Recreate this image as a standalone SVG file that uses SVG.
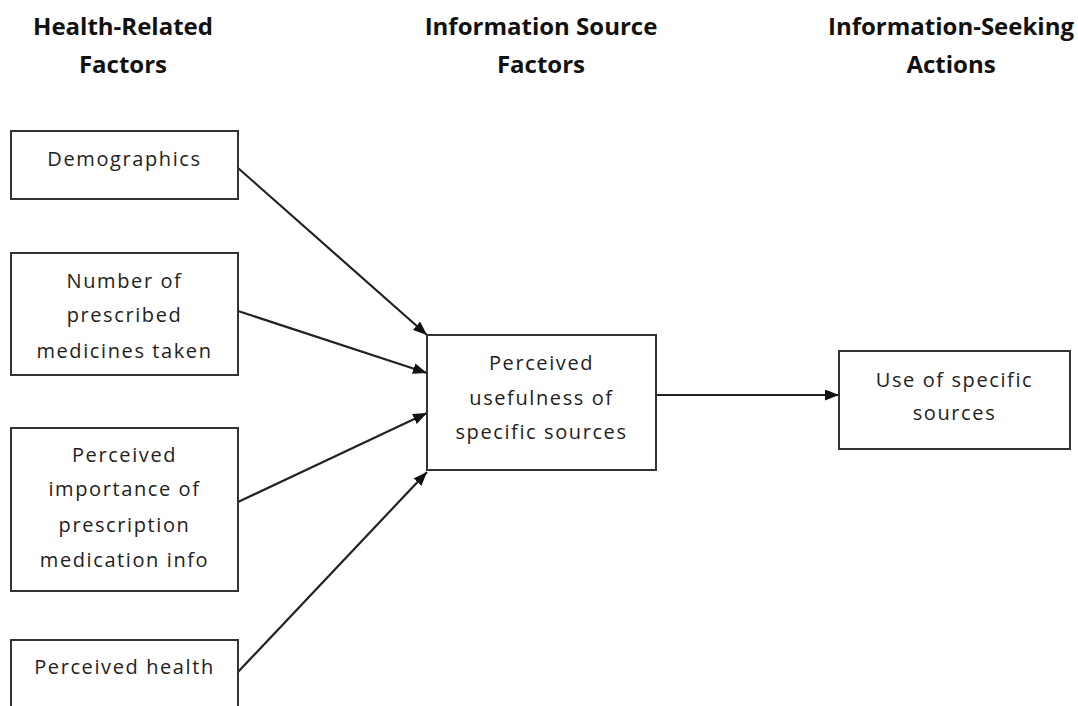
<svg xmlns="http://www.w3.org/2000/svg" width="1078" height="706" viewBox="0 0 1078 706">
<defs>
<style>
.title{font-family:"Open Sans","Liberation Sans",sans-serif;font-weight:bold;font-size:24px;fill:#111;text-anchor:middle}
.lbl{font-family:"Open Sans","Liberation Sans",sans-serif;font-size:20px;fill:#222;text-anchor:middle;letter-spacing:1.6px}
.box{fill:#fff;stroke:#333;stroke-width:2}
.conn{stroke:#222;stroke-width:2.2;fill:none;marker-end:url(#arr)}
</style>
<marker id="arr" viewBox="0 0 14 11" refX="14" refY="5.5" markerWidth="14" markerHeight="11" markerUnits="userSpaceOnUse" orient="auto">
<path d="M0,0 L14,5.5 L0,11 Z" fill="#111"/>
</marker>
</defs>
<rect width="1078" height="706" fill="#fff"/>
<g id="titles">
<text class="title" x="123" y="35">Health-Related</text>
<text class="title" x="123" y="73">Factors</text>
<text class="title" x="541" y="35">Information Source</text>
<text class="title" x="541" y="73">Factors</text>
<text class="title" x="951" y="35">Information-Seeking</text>
<text class="title" x="951" y="73">Actions</text>
</g>
<g id="connectors">
<line class="conn" x1="238" y1="168" x2="427" y2="335"/>
<line class="conn" x1="238" y1="311" x2="427" y2="373"/>
<line class="conn" x1="238" y1="502" x2="427" y2="413"/>
<line class="conn" x1="238" y1="672" x2="427" y2="472"/>
<line class="conn" x1="656" y1="395" x2="839" y2="395"/>
</g>
<g id="demographics">
<rect class="box" x="11" y="131" width="227" height="68"/>
<text class="lbl" x="124.5" y="166">Demographics</text>
</g>
<g id="num-medicines">
<rect class="box" x="11" y="253" width="227" height="122"/>
<text class="lbl" x="124.5" y="288">Number of</text>
<text class="lbl" x="124.5" y="322">prescribed</text>
<text class="lbl" x="124.5" y="358">medicines taken</text>
</g>
<g id="importance">
<rect class="box" x="11" y="428" width="227" height="163"/>
<text class="lbl" x="124.5" y="462">Perceived</text>
<text class="lbl" x="124.5" y="496">importance of</text>
<text class="lbl" x="124.5" y="532">prescription</text>
<text class="lbl" x="124.5" y="567">medication info</text>
</g>
<g id="perceived-health">
<rect class="box" x="11" y="640" width="227" height="90"/>
<text class="lbl" x="124.5" y="674">Perceived health</text>
</g>
<g id="usefulness">
<rect class="box" x="427" y="335" width="229" height="135"/>
<text class="lbl" x="541.5" y="370">Perceived</text>
<text class="lbl" x="541.5" y="405">usefulness of</text>
<text class="lbl" x="541.5" y="439">specific sources</text>
</g>
<g id="use-sources">
<rect class="box" x="839" y="351" width="231" height="98"/>
<text class="lbl" x="954.5" y="387">Use of specific</text>
<text class="lbl" x="954.5" y="420">sources</text>
</g>
</svg>
